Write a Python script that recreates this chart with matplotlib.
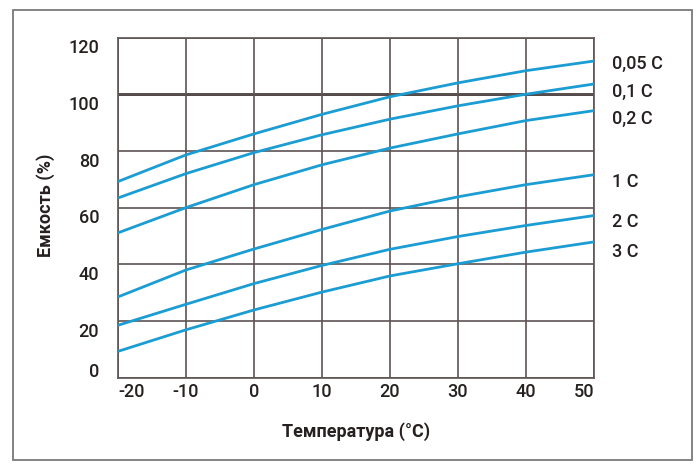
import numpy as np
import matplotlib
matplotlib.use('Agg')
import matplotlib.pyplot as plt
import matplotlib.transforms as mtransforms
from matplotlib.patches import Rectangle

plt.rcParams['font.family'] = ['Roboto', 'DejaVu Sans']

# temperature, deg C
temps = [-20, -10, 0, 10, 20, 30, 40, 50]

# capacity (%) per discharge rate
cap_005c = [69.2, 78.6, 86.0, 92.9, 99.1, 104.0, 108.3, 111.7]
cap_01c = [63.4, 72.0, 79.4, 85.7, 91.2, 95.9, 100.0, 103.6]
cap_02c = [51.1, 60.0, 68.1, 75.1, 81.0, 86.0, 90.7, 94.2]
cap_1c = [28.5, 38.0, 45.4, 52.3, 58.8, 63.8, 68.1, 71.6]
cap_2c = [18.5, 25.9, 33.2, 39.6, 45.3, 49.8, 53.7, 57.2]
cap_3c = [9.3, 16.9, 23.9, 30.2, 35.9, 40.2, 44.3, 47.9]

series = [cap_005c, cap_01c, cap_02c, cap_1c, cap_2c, cap_3c]
series_names = ['0,05 C', '0,1 C', '0,2 C', '1 C', '2 C', '3 C']
name_y = [110.7, 100.9, 91.4, 68.9, 54.8, 44.2]

x_ticks = [-20, -10, 0, 10, 20, 30, 40, 50]
y_ticks = [0, 20, 40, 60, 80, 100, 120]

line_color = '#1b9dd3'
grid_color = '#5e5454'
text_color = '#262020'

fig = plt.figure(figsize=(7, 4.67), dpi=100)
ax = fig.add_axes([118 / 700, 1 - 377.7 / 467, 476 / 700, 340.2 / 467])

# outer frame
fig.patches.append(Rectangle((13 / 700, 1 - 460 / 467), 679 / 700, 450 / 467,
                             transform=fig.transFigure, fill=False,
                             edgecolor='#7a7a7a', linewidth=1.3))

ax.set_xlim(-20, 50)
ax.set_ylim(0, 120)
ax.set_xticks(x_ticks)
ax.set_yticks(y_ticks)
ax.set_xticklabels([])
ax.set_yticklabels([])
ax.tick_params(length=0)
ax.grid(True, color=grid_color, linewidth=1.2)
ax.axhline(100, color='#3e3636', linewidth=2.0, zorder=1.5)
for s in ax.spines.values():
    s.set_color(grid_color)
    s.set_linewidth(1.2)

for vals in series:
    ax.plot(temps, vals, color=line_color, linewidth=2.0, solid_capstyle='butt', zorder=3)

# y tick labels, sitting a little below their grid lines
ytrans = mtransforms.blended_transform_factory(ax.transAxes, ax.transData)
for v in y_ticks:
    dy = 5.4 if v == 0 else -10.8
    tr = mtransforms.offset_copy(ytrans, fig=fig, x=-19, y=dy, units='dots')
    ax.text(0, v, str(v), transform=tr, ha='right', va='center',
            fontsize=13, fontweight='medium', color=text_color)

# x tick labels
xtrans = mtransforms.blended_transform_factory(ax.transData, ax.transAxes)
for v in x_ticks:
    ha = 'center'
    if v == x_ticks[0]:
        ha = 'left'
    elif v == x_ticks[-1]:
        ha = 'right'
    tr = mtransforms.offset_copy(xtrans, fig=fig, x=0, y=-14, units='dots')
    ax.text(v, 0, str(v), transform=tr, ha=ha, va='center',
            fontsize=13, fontweight='medium', color=text_color)

# curve names on the right
for name, yv in zip(series_names, name_y):
    ax.text(52.6, yv, name, ha='left', va='center', fontsize=13,
            fontweight='medium', color=text_color, clip_on=False)

fig.text(356 / 700, 1 - 432 / 467, 'Температура (°C)', ha='center', va='center',
         fontsize=13, fontweight='bold', color=text_color)
fig.text(46 / 700, 1 - 205 / 467, 'Емкость (%)', ha='center', va='center',
         rotation=90, fontsize=13, fontweight='bold', color=text_color)

fig.savefig('out.png', dpi=100)
